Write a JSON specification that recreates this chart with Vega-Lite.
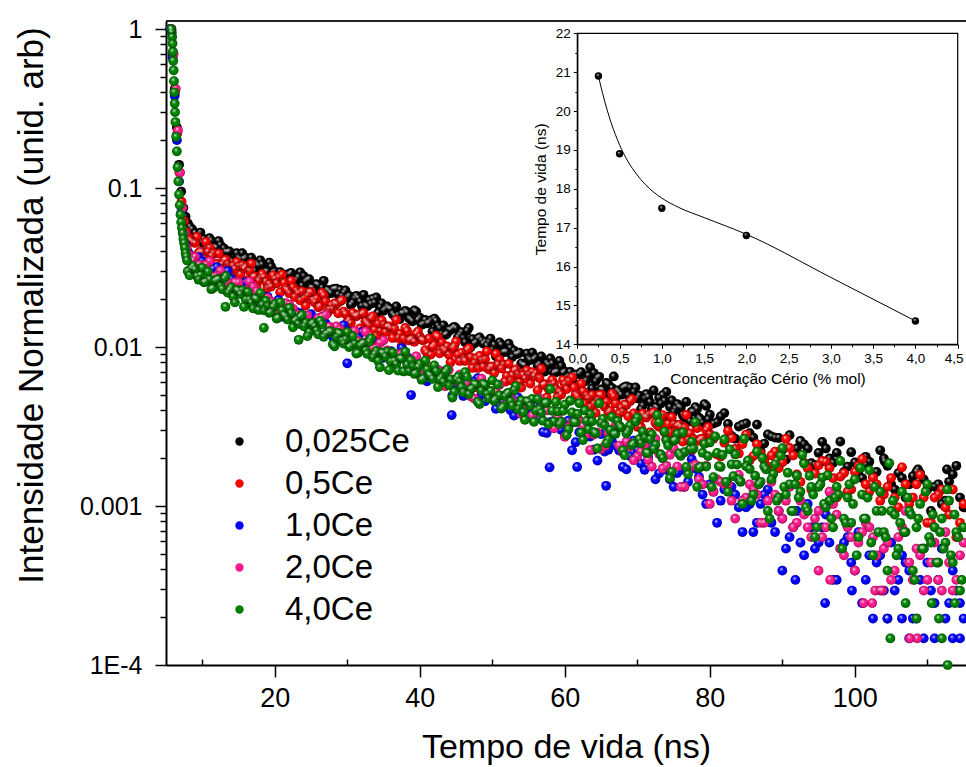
{
"$schema":"https://vega.github.io/schema/vega-lite/v6.json",
"width":800,"height":644,
"autosize":{"type":"none"},
"padding":{"left":166,"top":21,"right":0,"bottom":102},
"background":"white",
"config":{"view":{"stroke":null},"font":"Liberation Sans",
"axis":{"grid":false,"labelColor":"#000","titleColor":"#000","domainColor":"#000","tickColor":"#000","titleFontWeight":"normal","labelFont":"Liberation Sans","titleFont":"Liberation Sans","labelFlush":false,"labelOverlap":false}},
"datasets":{
"a":[{"t":5.6,"v":1.0},{"t":5.9,"v":0.7},{"t":6.2,"v":0.42},{"t":6.5,"v":0.24},{"t":6.8,"v":0.14},{"t":7.1,"v":0.095},{"t":7.4,"v":0.075},{"t":7.7,"v":0.066},{"t":8.0,"v":0.06},{"t":8.3,"v":0.057},{"t":8.6,"v":0.055},
{"t":9,"v":0.0522},{"t":10,"v":0.0455},{"t":11,"v":0.0484},{"t":12,"v":0.0422},{"t":13,"v":0.0417},{"t":14,"v":0.0349},{"t":15,"v":0.0365},{"t":16,"v":0.0365},{"t":17,"v":0.032},{"t":18,"v":0.0351},{"t":19,"v":0.0299},{"t":20,"v":0.0299},{"t":21,"v":0.0268},{"t":22,"v":0.0287},{"t":23,"v":0.0265},{"t":24,"v":0.0279},{"t":25,"v":0.0237},{"t":26,"v":0.0245},{"t":27,"v":0.0208},{"t":28,"v":0.023},{"t":29,"v":0.0229},{"t":30,"v":0.0205},{"t":31,"v":0.0202},{"t":32,"v":0.0181},{"t":33,"v":0.0197},{"t":34,"v":0.0205},{"t":35,"v":0.0169},{"t":36,"v":0.0173},{"t":37,"v":0.0159},{"t":38,"v":0.0169},{"t":39,"v":0.0145},{"t":40,"v":0.0153},{"t":41,"v":0.0141},{"t":42,"v":0.0151},{"t":43,"v":0.0121},{"t":44,"v":0.0129},{"t":45,"v":0.0131},{"t":46,"v":0.0114},{"t":47,"v":0.00995},{"t":48,"v":0.0113},{"t":49,"v":0.0108},{"t":50,"v":0.00962},{"t":51,"v":0.0107},{"t":52,"v":0.00933},{"t":53,"v":0.00948},{"t":54,"v":0.00789},{"t":55,"v":0.00847},{"t":56,"v":0.00861},{"t":57,"v":0.00746},{"t":58,"v":0.00847},{"t":59,"v":0.007},{"t":60,"v":0.00702},{"t":61,"v":0.00619},{"t":62,"v":0.00678},{"t":63,"v":0.00618},{"t":64,"v":0.00686},{"t":65,"v":0.00541},{"t":66,"v":0.00583},{"t":67,"v":0.00456},{"t":68,"v":0.0055},{"t":69,"v":0.00556},{"t":70,"v":0.00476},{"t":71,"v":0.00474},{"t":72,"v":0.00407},{"t":73,"v":0.00479},{"t":74,"v":0.00522},{"t":75,"v":0.00391},{"t":76,"v":0.00415},{"t":77,"v":0.00373},{"t":78,"v":0.00419},{"t":79,"v":0.00334},{"t":80,"v":0.00375},{"t":81,"v":0.00337},{"t":82,"v":0.00384},{"t":83,"v":0.00276},{"t":84,"v":0.00316},{"t":85,"v":0.00331},{"t":86,"v":0.00269},{"t":87,"v":0.00221},{"t":88,"v":0.00282},{"t":89,"v":0.00269},{"t":90,"v":0.00226},{"t":91,"v":0.00279},{"t":92,"v":0.0023},{"t":93,"v":0.00244},{"t":94,"v":0.00186},{"t":95,"v":0.00216},{"t":96,"v":0.0023},{"t":97,"v":0.00187},{"t":98,"v":0.00254},{"t":99,"v":0.00177},{"t":100,"v":0.00188},{"t":101,"v":0.0015},{"t":102,"v":0.0019},{"t":103,"v":0.00164},{"t":104,"v":0.00199},{"t":105,"v":0.00137},{"t":106,"v":0.00161},{"t":107,"v":0.00113},{"t":108,"v":0.00154},{"t":109,"v":0.00161},{"t":110,"v":0.00127},{"t":111,"v":0.00132},{"t":112,"v":0.00103},{"t":113,"v":0.00142},{"t":114,"v":0.00179},{"t":115,"v":0.00098},
{"t":92.5,"v":0.00254},{"t":101.5,"v":0.00204},{"t":104.1,"v":0.00191},{"t":108.7,"v":0.0017},{"t":112.7,"v":0.0017},
{"t":9.5,"v":0.0507},{"t":10.5,"v":0.0415},{"t":11.5,"v":0.0424},{"t":12.5,"v":0.0437},{"t":13.5,"v":0.0396},{"t":14.5,"v":0.0339},{"t":15.5,"v":0.0389},{"t":16.5,"v":0.0335},{"t":17.5,"v":0.0335},{"t":18.5,"v":0.0294},{"t":19.5,"v":0.032},{"t":20.5,"v":0.0282},{"t":21.5,"v":0.0285},{"t":22.5,"v":0.026},{"t":23.5,"v":0.0295},{"t":24.5,"v":0.0265},{"t":25.5,"v":0.0226},{"t":26.5,"v":0.0236},{"t":27.5,"v":0.0224},{"t":28.5,"v":0.0233},{"t":29.5,"v":0.0219},{"t":30.5,"v":0.0184},{"t":31.5,"v":0.0203},{"t":32.5,"v":0.0183},{"t":33.5,"v":0.0201},{"t":34.5,"v":0.0178},{"t":35.5,"v":0.018},{"t":36.5,"v":0.0157},{"t":37.5,"v":0.0163},{"t":38.5,"v":0.0152},{"t":39.5,"v":0.0167},{"t":40.5,"v":0.014},{"t":41.5,"v":0.0147},{"t":42.5,"v":0.0136},{"t":43.5,"v":0.0119},{"t":44.5,"v":0.0131},{"t":45.5,"v":0.0119},{"t":46.5,"v":0.0126},{"t":47.5,"v":0.0105},{"t":48.5,"v":0.011},{"t":49.5,"v":0.0107},{"t":50.5,"v":0.00874},{"t":51.5,"v":0.00926},{"t":52.5,"v":0.00987},{"t":53.5,"v":0.00905},{"t":54.5,"v":0.00768},{"t":55.5,"v":0.00921},{"t":56.5,"v":0.00783},{"t":57.5,"v":0.00795},{"t":58.5,"v":0.00685},{"t":59.5,"v":0.00761},{"t":60.5,"v":0.00657},{"t":61.5,"v":0.00671},{"t":62.5,"v":0.00605},{"t":63.5,"v":0.00744},{"t":64.5,"v":0.00637},{"t":65.5,"v":0.00508},{"t":66.5,"v":0.00553},{"t":67.5,"v":0.00519},{"t":68.5,"v":0.00566},{"t":69.5,"v":0.00522},{"t":70.5,"v":0.00405},{"t":71.5,"v":0.00484},{"t":72.5,"v":0.0042},{"t":73.5,"v":0.00498},{"t":74.5,"v":0.0042},{"t":75.5,"v":0.00438},{"t":76.5,"v":0.00359},{"t":77.5,"v":0.00392},{"t":78.5,"v":0.00359},{"t":79.5,"v":0.00426},{"t":80.5,"v":0.0033},{"t":81.5,"v":0.00366},{"t":82.5,"v":0.00328},{"t":83.5,"v":0.00265},{"t":84.5,"v":0.00325},{"t":85.5,"v":0.00287},{"t":86.5,"v":0.00325},{"t":87.5,"v":0.00247},{"t":88.5,"v":0.00274},{"t":89.5,"v":0.00268},{"t":90.5,"v":0.00196},{"t":91.5,"v":0.00223},{"t":92.5,"v":0.00257},{"t":93.5,"v":0.0023},{"t":94.5,"v":0.00181},{"t":95.5,"v":0.00253},{"t":96.5,"v":0.00199},{"t":97.5,"v":0.00216},{"t":98.5,"v":0.00164},{"t":99.5,"v":0.00218},{"t":100.5,"v":0.00166},{"t":101.5,"v":0.00182},{"t":102.5,"v":0.00152},{"t":103.5,"v":0.00224},{"t":104.5,"v":0.00179},{"t":105.5,"v":0.00127},{"t":106.5,"v":0.0015},{"t":107.5,"v":0.00137},{"t":108.5,"v":0.00164},{"t":109.5,"v":0.00147},{"t":110.5,"v":0.000931},{"t":111.5,"v":0.00137},{"t":112.5,"v":0.00108},{"t":113.5,"v":0.00158},{"t":114.5,"v":0.00113},
{"t":9.25,"v":0.049},{"t":9.75,"v":0.0525},{"t":10.25,"v":0.0477},{"t":10.75,"v":0.0428},{"t":11.25,"v":0.0467},{"t":11.75,"v":0.0425},{"t":12.25,"v":0.0464},{"t":12.75,"v":0.0388},{"t":13.25,"v":0.0397},{"t":13.75,"v":0.0399},{"t":14.25,"v":0.0341},{"t":14.75,"v":0.0389},{"t":15.25,"v":0.0357},{"t":15.75,"v":0.0359},{"t":16.25,"v":0.0329},{"t":16.75,"v":0.0365},{"t":17.25,"v":0.0302},{"t":17.75,"v":0.0325},{"t":18.25,"v":0.033},{"t":18.75,"v":0.0298},{"t":19.25,"v":0.034},{"t":19.75,"v":0.0294},{"t":20.25,"v":0.0276},{"t":20.75,"v":0.0296},{"t":21.25,"v":0.0284},{"t":21.75,"v":0.025},{"t":22.25,"v":0.0293},{"t":22.75,"v":0.0262},{"t":23.25,"v":0.0275},{"t":23.75,"v":0.0243},{"t":24.25,"v":0.0258},{"t":24.75,"v":0.0267},{"t":25.25,"v":0.0235},{"t":25.75,"v":0.0249},{"t":26.25,"v":0.0221},{"t":26.75,"v":0.0261},{"t":27.25,"v":0.0229},{"t":27.75,"v":0.0218},{"t":28.25,"v":0.0232},{"t":28.75,"v":0.0214},{"t":29.25,"v":0.0208},{"t":29.75,"v":0.0227},{"t":30.25,"v":0.021},{"t":30.75,"v":0.019},{"t":31.25,"v":0.021},{"t":31.75,"v":0.0193},{"t":32.25,"v":0.0213},{"t":32.75,"v":0.018},{"t":33.25,"v":0.0187},{"t":33.75,"v":0.019},{"t":34.25,"v":0.0164},{"t":34.75,"v":0.0188},{"t":35.25,"v":0.0173},{"t":35.75,"v":0.0175},{"t":36.25,"v":0.0162},{"t":36.75,"v":0.018},{"t":37.25,"v":0.015},{"t":37.75,"v":0.0163},{"t":38.25,"v":0.0165},{"t":38.75,"v":0.0149},{"t":39.25,"v":0.017},{"t":39.75,"v":0.0148},{"t":40.25,"v":0.0138},{"t":40.75,"v":0.0148},{"t":41.25,"v":0.0142},{"t":41.75,"v":0.0125},{"t":42.25,"v":0.0146},{"t":42.75,"v":0.0131},{"t":43.25,"v":0.0137},{"t":43.75,"v":0.0121},{"t":44.25,"v":0.0128},{"t":44.75,"v":0.0134},{"t":45.25,"v":0.0115},{"t":45.75,"v":0.0124},{"t":46.25,"v":0.0107},{"t":46.75,"v":0.0132},{"t":47.25,"v":0.0112},{"t":47.75,"v":0.0107},{"t":48.25,"v":0.0115},{"t":48.75,"v":0.0105},{"t":49.25,"v":0.0102},{"t":49.75,"v":0.0113},{"t":50.25,"v":0.0103},{"t":50.75,"v":0.00915},{"t":51.25,"v":0.0103},{"t":51.75,"v":0.00936},{"t":52.25,"v":0.0105},{"t":52.75,"v":0.00864},{"t":53.25,"v":0.00901},{"t":53.75,"v":0.00921},{"t":54.25,"v":0.0077},{"t":54.75,"v":0.0091},{"t":55.25,"v":0.00828},{"t":55.75,"v":0.0084},{"t":56.25,"v":0.00763},{"t":56.75,"v":0.00872},{"t":57.25,"v":0.007},{"t":57.75,"v":0.00771},{"t":58.25,"v":0.00788},{"t":58.75,"v":0.00697},{"t":59.25,"v":0.00818},{"t":59.75,"v":0.00689},{"t":60.25,"v":0.0064},{"t":60.75,"v":0.00697},{"t":61.25,"v":0.00667},{"t":61.75,"v":0.00575},{"t":62.25,"v":0.00695},{"t":62.75,"v":0.00606},{"t":63.25,"v":0.0066},{"t":63.75,"v":0.00549},{"t":64.25,"v":0.00609},{"t":64.75,"v":0.0065},{"t":65.25,"v":0.00536},{"t":65.75,"v":0.00594},{"t":66.25,"v":0.00495},{"t":66.75,"v":0.00653},{"t":67.25,"v":0.00534},{"t":67.75,"v":0.00501},{"t":68.25,"v":0.0056},{"t":68.75,"v":0.00497},{"t":69.25,"v":0.0048},{"t":69.75,"v":0.00557},{"t":70.25,"v":0.00495},{"t":70.75,"v":0.00428},{"t":71.25,"v":0.00506},{"t":71.75,"v":0.0045},{"t":72.25,"v":0.00533},{"t":72.75,"v":0.00413},{"t":73.25,"v":0.00441},{"t":73.75,"v":0.00459},{"t":74.25,"v":0.00365},{"t":74.75,"v":0.00461},{"t":75.25,"v":0.0041},{"t":75.75,"v":0.00422},{"t":76.25,"v":0.00375},{"t":76.75,"v":0.00452},{"t":77.25,"v":0.00341},{"t":77.75,"v":0.00392},{"t":78.25,"v":0.00408},{"t":78.75,"v":0.0035},{"t":79.25,"v":0.00437},{"t":79.75,"v":0.00351}],
"b":[{"t":5.65,"v":1.0},{"t":5.95,"v":0.68},{"t":6.25,"v":0.4},{"t":6.55,"v":0.22},{"t":6.85,"v":0.125},{"t":7.15,"v":0.082},{"t":7.45,"v":0.062},{"t":7.75,"v":0.053},{"t":8.05,"v":0.049},{"t":8.35,"v":0.047},{"t":8.65,"v":0.046},
{"t":9,"v":0.0451},{"t":10,"v":0.0395},{"t":11,"v":0.0421},{"t":12,"v":0.0333},{"t":13,"v":0.035},{"t":14,"v":0.0278},{"t":15,"v":0.0322},{"t":16,"v":0.032},{"t":17,"v":0.0277},{"t":18,"v":0.0272},{"t":19,"v":0.0236},{"t":20,"v":0.0268},{"t":21,"v":0.0285},{"t":22,"v":0.0218},{"t":23,"v":0.0226},{"t":24,"v":0.0203},{"t":25,"v":0.0221},{"t":26,"v":0.0178},{"t":27,"v":0.0194},{"t":28,"v":0.0174},{"t":29,"v":0.0193},{"t":30,"v":0.0143},{"t":31,"v":0.0158},{"t":32,"v":0.0161},{"t":33,"v":0.0137},{"t":34,"v":0.0118},{"t":35,"v":0.0138},{"t":36,"v":0.0131},{"t":37,"v":0.0114},{"t":38,"v":0.0132},{"t":39,"v":0.0112},{"t":40,"v":0.0116},{"t":41,"v":0.0092},{"t":42,"v":0.0103},{"t":43,"v":0.0107},{"t":44,"v":0.00895},{"t":45,"v":0.0108},{"t":46,"v":0.00847},{"t":47,"v":0.00863},{"t":48,"v":0.00738},{"t":49,"v":0.00839},{"t":50,"v":0.00752},{"t":51,"v":0.00834},{"t":52,"v":0.00658},{"t":53,"v":0.0071},{"t":54,"v":0.00555},{"t":55,"v":0.00668},{"t":56,"v":0.00684},{"t":57,"v":0.00577},{"t":58,"v":0.00575},{"t":59,"v":0.00486},{"t":60,"v":0.00583},{"t":61,"v":0.00644},{"t":62,"v":0.00464},{"t":63,"v":0.00496},{"t":64,"v":0.0044},{"t":65,"v":0.00501},{"t":66,"v":0.00388},{"t":67,"v":0.00442},{"t":68,"v":0.00392},{"t":69,"v":0.00455},{"t":70,"v":0.00315},{"t":71,"v":0.00366},{"t":72,"v":0.00381},{"t":73,"v":0.00315},{"t":74,"v":0.00263},{"t":75,"v":0.00329},{"t":76,"v":0.00314},{"t":77,"v":0.0026},{"t":78,"v":0.00328},{"t":79,"v":0.00265},{"t":80,"v":0.00284},{"t":81,"v":0.00211},{"t":82,"v":0.0025},{"t":83,"v":0.00268},{"t":84,"v":0.00214},{"t":85,"v":0.00281},{"t":86,"v":0.00206},{"t":87,"v":0.00215},{"t":88,"v":0.00177},{"t":89,"v":0.0022},{"t":90,"v":0.00188},{"t":91,"v":0.00232},{"t":92,"v":0.00158},{"t":93,"v":0.00187},{"t":94,"v":0.00127},{"t":95,"v":0.0018},{"t":96,"v":0.0019},{"t":97,"v":0.0015},{"t":98,"v":0.00153},{"t":99,"v":0.00123},{"t":100,"v":0.00164},{"t":101,"v":0.00197},{"t":102,"v":0.00123},{"t":103,"v":0.00137},{"t":104,"v":0.00118},{"t":105,"v":0.0015},{"t":106,"v":0.00098},{"t":107,"v":0.00137},{"t":108,"v":0.00113},{"t":109,"v":0.00157},{"t":110,"v":0.000784},{"t":111,"v":0.00113},{"t":112,"v":0.00127},{"t":113,"v":0.000882},{"t":114,"v":0.000637},{"t":115,"v":0.00103},
{"t":9.5,"v":0.039},{"t":10.5,"v":0.0458},{"t":11.5,"v":0.039},{"t":12.5,"v":0.0312},{"t":13.5,"v":0.0331},{"t":14.5,"v":0.0309},{"t":15.5,"v":0.0327},{"t":16.5,"v":0.0301},{"t":17.5,"v":0.0239},{"t":18.5,"v":0.0275},{"t":19.5,"v":0.024},{"t":20.5,"v":0.0275},{"t":21.5,"v":0.0233},{"t":22.5,"v":0.0238},{"t":23.5,"v":0.0197},{"t":24.5,"v":0.021},{"t":25.5,"v":0.0191},{"t":26.5,"v":0.0219},{"t":27.5,"v":0.0172},{"t":28.5,"v":0.0186},{"t":29.5,"v":0.0167},{"t":30.5,"v":0.0141},{"t":31.5,"v":0.016},{"t":32.5,"v":0.0145},{"t":33.5,"v":0.0156},{"t":34.5,"v":0.0126},{"t":35.5,"v":0.0134},{"t":36.5,"v":0.013},{"t":37.5,"v":0.0101},{"t":38.5,"v":0.011},{"t":39.5,"v":0.0121},{"t":40.5,"v":0.011},{"t":41.5,"v":0.00895},{"t":42.5,"v":0.0116},{"t":43.5,"v":0.00946},{"t":44.5,"v":0.00982},{"t":45.5,"v":0.00817},{"t":46.5,"v":0.00955},{"t":47.5,"v":0.00794},{"t":48.5,"v":0.00824},{"t":49.5,"v":0.00724},{"t":50.5,"v":0.00905},{"t":51.5,"v":0.00775},{"t":52.5,"v":0.00617},{"t":53.5,"v":0.00672},{"t":54.5,"v":0.00632},{"t":55.5,"v":0.00696},{"t":56.5,"v":0.00638},{"t":57.5,"v":0.00481},{"t":58.5,"v":0.00589},{"t":59.5,"v":0.00503},{"t":60.5,"v":0.0061},{"t":61.5,"v":0.00503},{"t":62.5,"v":0.00527},{"t":63.5,"v":0.00421},{"t":64.5,"v":0.00465},{"t":65.5,"v":0.00421},{"t":66.5,"v":0.00509},{"t":67.5,"v":0.00383},{"t":68.5,"v":0.00431},{"t":69.5,"v":0.00382},{"t":70.5,"v":0.00313},{"t":71.5,"v":0.00375},{"t":72.5,"v":0.00334},{"t":73.5,"v":0.00373},{"t":74.5,"v":0.0029},{"t":75.5,"v":0.00319},{"t":76.5,"v":0.00312},{"t":77.5,"v":0.00223},{"t":78.5,"v":0.00257},{"t":79.5,"v":0.003},{"t":80.5,"v":0.00265},{"t":81.5,"v":0.00205},{"t":82.5,"v":0.00297},{"t":83.5,"v":0.00229},{"t":84.5,"v":0.00245},{"t":85.5,"v":0.00194},{"t":86.5,"v":0.00245},{"t":87.5,"v":0.00194},{"t":88.5,"v":0.00208},{"t":89.5,"v":0.00173},{"t":90.5,"v":0.00264},{"t":91.5,"v":0.00208},{"t":92.5,"v":0.00142},{"t":93.5,"v":0.00173},{"t":94.5,"v":0.0016},{"t":95.5,"v":0.00192},{"t":96.5,"v":0.00173},{"t":97.5,"v":0.00113},{"t":98.5,"v":0.00161},{"t":99.5,"v":0.00127},{"t":100.5,"v":0.00179},{"t":101.5,"v":0.00137},{"t":102.5,"v":0.00151},{"t":103.5,"v":0.00108},{"t":104.5,"v":0.00132},{"t":105.5,"v":0.00113},{"t":106.5,"v":0.00175},{"t":107.5,"v":0.00103},{"t":108.5,"v":0.00137},{"t":109.5,"v":0.00113},{"t":110.5,"v":0.000784},{"t":111.5,"v":0.00118},{"t":112.5,"v":0.00098},{"t":113.5,"v":0.00127},{"t":114.5,"v":0.000784},
{"t":9.25,"v":0.0492},{"t":9.75,"v":0.0399},{"t":10.25,"v":0.0362},{"t":10.75,"v":0.0397},{"t":11.25,"v":0.0374},{"t":11.75,"v":0.0311},{"t":12.25,"v":0.0386},{"t":12.75,"v":0.0332},{"t":13.25,"v":0.0354},{"t":13.75,"v":0.03},{"t":14.25,"v":0.0325},{"t":14.75,"v":0.0342},{"t":15.25,"v":0.0286},{"t":15.75,"v":0.0311},{"t":16.25,"v":0.0263},{"t":16.75,"v":0.0334},{"t":17.25,"v":0.0278},{"t":17.75,"v":0.0262},{"t":18.25,"v":0.0287},{"t":18.75,"v":0.0258},{"t":19.25,"v":0.0249},{"t":19.75,"v":0.0282},{"t":20.25,"v":0.0252},{"t":20.75,"v":0.0221},{"t":21.25,"v":0.0254},{"t":21.75,"v":0.0227},{"t":22.25,"v":0.0261},{"t":22.75,"v":0.0207},{"t":23.25,"v":0.0218},{"t":23.75,"v":0.0224},{"t":24.25,"v":0.0182},{"t":24.75,"v":0.0221},{"t":25.25,"v":0.0198},{"t":25.75,"v":0.0202},{"t":26.25,"v":0.0181},{"t":26.75,"v":0.0211},{"t":27.25,"v":0.0163},{"t":27.75,"v":0.0183},{"t":28.25,"v":0.0188},{"t":28.75,"v":0.0163},{"t":29.25,"v":0.0197},{"t":29.75,"v":0.0161},{"t":30.25,"v":0.0148},{"t":30.75,"v":0.0164},{"t":31.25,"v":0.0156},{"t":31.75,"v":0.0131},{"t":32.25,"v":0.0164},{"t":32.75,"v":0.0141},{"t":33.25,"v":0.0151},{"t":33.75,"v":0.0128},{"t":34.25,"v":0.014},{"t":34.75,"v":0.0147},{"t":35.25,"v":0.0124},{"t":35.75,"v":0.0135},{"t":36.25,"v":0.0114},{"t":36.75,"v":0.0148},{"t":37.25,"v":0.0121},{"t":37.75,"v":0.0113},{"t":38.25,"v":0.0126},{"t":38.75,"v":0.0112},{"t":39.25,"v":0.0108},{"t":39.75,"v":0.0125},{"t":40.25,"v":0.0111},{"t":40.75,"v":0.00955},{"t":41.25,"v":0.0113},{"t":41.75,"v":0.01},{"t":42.25,"v":0.0118},{"t":42.75,"v":0.00912},{"t":43.25,"v":0.00973},{"t":43.75,"v":0.0101},{"t":44.25,"v":0.00802},{"t":44.75,"v":0.0101},{"t":45.25,"v":0.00895},{"t":45.75,"v":0.0092},{"t":46.25,"v":0.00817},{"t":46.75,"v":0.00982},{"t":47.25,"v":0.00738},{"t":47.75,"v":0.00847},{"t":48.25,"v":0.00879},{"t":48.75,"v":0.00752},{"t":49.25,"v":0.00938},{"t":49.75,"v":0.00752},{"t":50.25,"v":0.00686},{"t":50.75,"v":0.00774},{"t":51.25,"v":0.00733},{"t":51.75,"v":0.00605},{"t":52.25,"v":0.00784},{"t":52.75,"v":0.00665},{"t":53.25,"v":0.00723},{"t":53.75,"v":0.00602},{"t":54.25,"v":0.00667},{"t":54.75,"v":0.00712},{"t":55.25,"v":0.00588},{"t":55.75,"v":0.00655},{"t":56.25,"v":0.00534},{"t":56.75,"v":0.00731},{"t":57.25,"v":0.00584},{"t":57.75,"v":0.00545},{"t":58.25,"v":0.0062},{"t":58.75,"v":0.00544},{"t":59.25,"v":0.00523},{"t":59.75,"v":0.0062},{"t":60.25,"v":0.00543},{"t":60.75,"v":0.00461},{"t":61.25,"v":0.00557},{"t":61.75,"v":0.00488},{"t":62.25,"v":0.00589},{"t":62.75,"v":0.00442},{"t":63.25,"v":0.00476},{"t":63.75,"v":0.00498},{"t":64.25,"v":0.00385},{"t":64.75,"v":0.005},{"t":65.25,"v":0.00438},{"t":65.75,"v":0.00453},{"t":66.25,"v":0.00397},{"t":66.75,"v":0.00489},{"t":67.25,"v":0.00356},{"t":67.75,"v":0.00416},{"t":68.25,"v":0.00435},{"t":68.75,"v":0.00366},{"t":69.25,"v":0.0047},{"t":69.75,"v":0.00367},{"t":70.25,"v":0.00332},{"t":70.75,"v":0.00381},{"t":71.25,"v":0.0036},{"t":71.75,"v":0.0029},{"t":72.25,"v":0.00389},{"t":72.75,"v":0.00324},{"t":73.25,"v":0.00357},{"t":73.75,"v":0.00291},{"t":74.25,"v":0.00328},{"t":74.75,"v":0.00362},{"t":75.25,"v":0.0028},{"t":75.75,"v":0.00325},{"t":76.25,"v":0.00254},{"t":76.75,"v":0.00374},{"t":77.25,"v":0.00286},{"t":77.75,"v":0.00264},{"t":78.25,"v":0.00309},{"t":78.75,"v":0.00264},{"t":79.25,"v":0.00253},{"t":79.75,"v":0.00313}],
"c":[{"t":5.6,"v":1.0},{"t":5.9,"v":0.66},{"t":6.2,"v":0.38},{"t":6.5,"v":0.2},{"t":6.8,"v":0.11},{"t":7.1,"v":0.07},{"t":7.4,"v":0.052},{"t":7.7,"v":0.044},{"t":8.0,"v":0.04},{"t":8.3,"v":0.038},{"t":8.6,"v":0.036},
{"t":9,"v":0.0346},{"t":10,"v":0.0346},{"t":11,"v":0.0305},{"t":12,"v":0.0318},{"t":13,"v":0.0257},{"t":14,"v":0.0268},{"t":15,"v":0.0239},{"t":16,"v":0.0256},{"t":17,"v":0.0194},{"t":18,"v":0.0207},{"t":19,"v":0.0207},{"t":20,"v":0.0179},{"t":21,"v":0.0155},{"t":22,"v":0.0175},{"t":23,"v":0.0166},{"t":24,"v":0.0146},{"t":25,"v":0.0161},{"t":26,"v":0.0139},{"t":27,"v":0.0141},{"t":28,"v":0.0116},{"t":29,"v":0.0124},{"t":30,"v":0.0126},{"t":31,"v":0.0107},{"t":32,"v":0.0124},{"t":33,"v":0.00991},{"t":34,"v":0.00993},{"t":35,"v":0.00854},{"t":36,"v":0.00943},{"t":37,"v":0.00844},{"t":38,"v":0.0091},{"t":39,"v":0.00728},{"t":40,"v":0.00766},{"t":41,"v":0.00608},{"t":42,"v":0.00704},{"t":43,"v":0.007},{"t":44,"v":0.00598},{"t":45,"v":0.00589},{"t":46,"v":0.00492},{"t":47,"v":0.00583},{"t":48,"v":0.00637},{"t":49,"v":0.00456},{"t":50,"v":0.00483},{"t":51,"v":0.00425},{"t":52,"v":0.0048},{"t":53,"v":0.0037},{"t":54,"v":0.00418},{"t":55,"v":0.00368},{"t":56,"v":0.00425},{"t":57,"v":0.00292},{"t":58,"v":0.00337},{"t":59,"v":0.00354},{"t":60,"v":0.0028},{"t":61,"v":0.00224},{"t":62,"v":0.00291},{"t":63,"v":0.00275},{"t":64,"v":0.00226},{"t":65,"v":0.00283},{"t":66,"v":0.00226},{"t":67,"v":0.0024},{"t":68,"v":0.00176},{"t":69,"v":0.00206},{"t":70,"v":0.00225},{"t":71,"v":0.00169},{"t":72,"v":0.00239},{"t":73,"v":0.0016},{"t":74,"v":0.00169},{"t":75,"v":0.00132},{"t":76,"v":0.00168},{"t":77,"v":0.00142},{"t":78,"v":0.00172},{"t":79,"v":0.00118},{"t":80,"v":0.00137},{"t":81,"v":0.000784},{"t":82,"v":0.00127},{"t":83,"v":0.00132},{"t":84,"v":0.00098},{"t":85,"v":0.00098},{"t":86,"v":0.000686},{"t":87,"v":0.00103},{"t":88,"v":0.00127},{"t":89,"v":0.000686},{"t":90,"v":0.000833},{"t":91,"v":0.000637},{"t":92,"v":0.000931},{"t":93,"v":0.00049},{"t":94,"v":0.000735},{"t":95,"v":0.000588},{"t":96,"v":0.000882},{"t":97,"v":0.000343},{"t":98,"v":0.000539},{"t":99,"v":0.000637},{"t":100,"v":0.000392},{"t":101,"v":0.000245},{"t":102,"v":0.00049},{"t":103,"v":0.000441},{"t":104,"v":0.000294},{"t":105,"v":0.000588},{"t":106,"v":0.000343},{"t":107,"v":0.000441},{"t":108,"v":0.000196},{"t":109,"v":0.000343},{"t":110,"v":0.000441},{"t":111,"v":0.000245},{"t":112,"v":0.000539},{"t":113,"v":0.000245},{"t":114,"v":0.000294},{"t":115,"v":0.000196},
{"t":30,"v":0.0079},{"t":38.8,"v":0.00499},{"t":44.4,"v":0.00373},{"t":57.9,"v":0.00175},{"t":61.7,"v":0.00176},{"t":65.7,"v":0.00134},{"t":90,"v":0.000392},{"t":91.8,"v":0.000343},{"t":95.9,"v":0.000245},{"t":99.6,"v":0.000294},{"t":102.5,"v":0.000196},{"t":104.5,"v":0.000196},{"t":106.5,"v":0.000196},{"t":107.5,"v":0.000147},{"t":109.5,"v":0.000147},{"t":111,"v":0.000147},{"t":113.5,"v":0.000147},{"t":114.5,"v":0.000147},
{"t":9.5,"v":0.0368},{"t":10.5,"v":0.0303},{"t":11.5,"v":0.031},{"t":12.5,"v":0.0277},{"t":13.5,"v":0.0301},{"t":14.5,"v":0.024},{"t":15.5,"v":0.0251},{"t":16.5,"v":0.0224},{"t":17.5,"v":0.0189},{"t":18.5,"v":0.0208},{"t":19.5,"v":0.0188},{"t":20.5,"v":0.0198},{"t":21.5,"v":0.0163},{"t":22.5,"v":0.0169},{"t":23.5,"v":0.0163},{"t":24.5,"v":0.0132},{"t":25.5,"v":0.0139},{"t":26.5,"v":0.0147},{"t":27.5,"v":0.0134},{"t":28.5,"v":0.0111},{"t":29.5,"v":0.0137},{"t":30.5,"v":0.0113},{"t":31.5,"v":0.0115},{"t":32.5,"v":0.00966},{"t":33.5,"v":0.0109},{"t":34.5,"v":0.00917},{"t":35.5,"v":0.00934},{"t":36.5,"v":0.00823},{"t":37.5,"v":0.00985},{"t":38.5,"v":0.00847},{"t":39.5,"v":0.00683},{"t":40.5,"v":0.00724},{"t":41.5,"v":0.00675},{"t":42.5,"v":0.00716},{"t":43.5,"v":0.00645},{"t":44.5,"v":0.00495},{"t":45.5,"v":0.006},{"t":46.5,"v":0.00506},{"t":47.5,"v":0.00607},{"t":48.5,"v":0.00496},{"t":49.5,"v":0.00515},{"t":50.5,"v":0.00408},{"t":51.5,"v":0.00447},{"t":52.5,"v":0.00402},{"t":53.5,"v":0.00484},{"t":54.5,"v":0.00361},{"t":55.5,"v":0.00404},{"t":56.5,"v":0.00356},{"t":57.5,"v":0.00288},{"t":58.5,"v":0.00343},{"t":59.5,"v":0.00301},{"t":60.5,"v":0.00344},{"t":61.5,"v":0.00252},{"t":62.5,"v":0.00281},{"t":63.5,"v":0.00273},{"t":64.5,"v":0.00193},{"t":65.5,"v":0.0022},{"t":66.5,"v":0.00255},{"t":67.5,"v":0.00223},{"t":68.5,"v":0.0017},{"t":69.5,"v":0.00258},{"t":70.5,"v":0.00185},{"t":71.5,"v":0.00201},{"t":72.5,"v":0.00147},{"t":73.5,"v":0.002},{"t":74.5,"v":0.00147},{"t":75.5,"v":0.00161},{"t":76.5,"v":0.00132},{"t":77.5,"v":0.00197},{"t":78.5,"v":0.00153},{"t":79.5,"v":0.00103},{"t":80.5,"v":0.00123},{"t":81.5,"v":0.00108},{"t":82.5,"v":0.00137},{"t":83.5,"v":0.00118},{"t":84.5,"v":0.000686},{"t":85.5,"v":0.00103},{"t":86.5,"v":0.000784},{"t":87.5,"v":0.00118},{"t":88.5,"v":0.000784},{"t":89.5,"v":0.000931},{"t":90.5,"v":0.000539},{"t":91.5,"v":0.000735},{"t":92.5,"v":0.000588},{"t":93.5,"v":0.00103},{"t":94.5,"v":0.000539},{"t":95.5,"v":0.000735},{"t":96.5,"v":0.000588},{"t":97.5,"v":0.000343},{"t":98.5,"v":0.000588},{"t":99.5,"v":0.000441},{"t":100.5,"v":0.000686},{"t":101.5,"v":0.000343},{"t":102.5,"v":0.00049},{"t":103.5,"v":0.00049},{"t":104.5,"v":0.000196},{"t":105.5,"v":0.000294},{"t":106.5,"v":0.00049},{"t":107.5,"v":0.000392},{"t":108.5,"v":0.000196},{"t":109.5,"v":0.000539},{"t":110.5,"v":0.000294},{"t":111.5,"v":0.000343},{"t":112.5,"v":0.000196},{"t":113.5,"v":0.000392},{"t":114.5,"v":0.000245}],
"d":[{"t":5.75,"v":1.0},{"t":6.05,"v":0.7},{"t":6.35,"v":0.42},{"t":6.65,"v":0.23},{"t":6.95,"v":0.125},{"t":7.25,"v":0.075},{"t":7.55,"v":0.052},{"t":7.85,"v":0.042},{"t":8.15,"v":0.038},{"t":8.45,"v":0.036},{"t":8.75,"v":0.035},
{"t":9,"v":0.0369},{"t":10,"v":0.031},{"t":11,"v":0.0346},{"t":12,"v":0.0281},{"t":13,"v":0.0276},{"t":14,"v":0.0238},{"t":15,"v":0.0255},{"t":16,"v":0.0228},{"t":17,"v":0.024},{"t":18,"v":0.0195},{"t":19,"v":0.0203},{"t":20,"v":0.0165},{"t":21,"v":0.0186},{"t":22,"v":0.0185},{"t":23,"v":0.0161},{"t":24,"v":0.0157},{"t":25,"v":0.0138},{"t":26,"v":0.0152},{"t":27,"v":0.0159},{"t":28,"v":0.0125},{"t":29,"v":0.0129},{"t":30,"v":0.0115},{"t":31,"v":0.0126},{"t":32,"v":0.0102},{"t":33,"v":0.0111},{"t":34,"v":0.00993},{"t":35,"v":0.011},{"t":36,"v":0.00813},{"t":37,"v":0.009},{"t":38,"v":0.00911},{"t":39,"v":0.00773},{"t":40,"v":0.00661},{"t":41,"v":0.00767},{"t":42,"v":0.00729},{"t":43,"v":0.00633},{"t":44,"v":0.00718},{"t":45,"v":0.00611},{"t":46,"v":0.00635},{"t":47,"v":0.00489},{"t":48,"v":0.00553},{"t":49,"v":0.00575},{"t":50,"v":0.00471},{"t":51,"v":0.00579},{"t":52,"v":0.00443},{"t":53,"v":0.00452},{"t":54,"v":0.00379},{"t":55,"v":0.00438},{"t":56,"v":0.00387},{"t":57,"v":0.00434},{"t":58,"v":0.00331},{"t":59,"v":0.0036},{"t":60,"v":0.00272},{"t":61,"v":0.00335},{"t":62,"v":0.00346},{"t":63,"v":0.00282},{"t":64,"v":0.00281},{"t":65,"v":0.00228},{"t":66,"v":0.00286},{"t":67,"v":0.00323},{"t":68,"v":0.00218},{"t":69,"v":0.00237},{"t":70,"v":0.00205},{"t":71,"v":0.00241},{"t":72,"v":0.00177},{"t":73,"v":0.00213},{"t":74,"v":0.00179},{"t":75,"v":0.0023},{"t":76,"v":0.00132},{"t":77,"v":0.00169},{"t":78,"v":0.00182},{"t":79,"v":0.00137},{"t":80,"v":0.00103},{"t":81,"v":0.00147},{"t":82,"v":0.00137},{"t":83,"v":0.00108},{"t":84,"v":0.00157},{"t":85,"v":0.00113},{"t":86,"v":0.00127},{"t":87,"v":0.000784},{"t":88,"v":0.00108},{"t":89,"v":0.00118},{"t":90,"v":0.000833},{"t":91,"v":0.00132},{"t":92,"v":0.000784},{"t":93,"v":0.000882},{"t":94,"v":0.000637},{"t":95,"v":0.000931},{"t":96,"v":0.000735},{"t":97,"v":0.00103},{"t":98,"v":0.000539},{"t":99,"v":0.000735},{"t":100,"v":0.000392},{"t":101,"v":0.000686},{"t":102,"v":0.000735},{"t":103,"v":0.00049},{"t":104,"v":0.000539},{"t":105,"v":0.000343},{"t":106,"v":0.000637},{"t":107,"v":0.000931},{"t":108,"v":0.000343},{"t":109,"v":0.00049},{"t":110,"v":0.000343},{"t":111,"v":0.000588},{"t":112,"v":0.000294},{"t":113,"v":0.000441},{"t":114,"v":0.000343},{"t":115,"v":0.000588},
{"t":95,"v":0.000392},{"t":96.6,"v":0.000343},{"t":101.2,"v":0.000245},{"t":102.4,"v":0.000245},{"t":102.8,"v":0.000294},{"t":103.8,"v":0.000294},{"t":107.6,"v":0.000147},{"t":108.6,"v":0.000147},
{"t":9.5,"v":0.033},{"t":10.5,"v":0.0328},{"t":11.5,"v":0.0277},{"t":12.5,"v":0.0302},{"t":13.5,"v":0.0256},{"t":14.5,"v":0.0255},{"t":15.5,"v":0.0225},{"t":16.5,"v":0.0258},{"t":17.5,"v":0.0224},{"t":18.5,"v":0.0185},{"t":19.5,"v":0.0193},{"t":20.5,"v":0.018},{"t":21.5,"v":0.0189},{"t":22.5,"v":0.0174},{"t":23.5,"v":0.0141},{"t":24.5,"v":0.0158},{"t":25.5,"v":0.0139},{"t":26.5,"v":0.0155},{"t":27.5,"v":0.0134},{"t":28.5,"v":0.0135},{"t":29.5,"v":0.0113},{"t":30.5,"v":0.012},{"t":31.5,"v":0.0109},{"t":32.5,"v":0.0125},{"t":33.5,"v":0.00983},{"t":34.5,"v":0.0106},{"t":35.5,"v":0.00953},{"t":36.5,"v":0.00802},{"t":37.5,"v":0.00909},{"t":38.5,"v":0.00816},{"t":39.5,"v":0.00874},{"t":40.5,"v":0.00706},{"t":41.5,"v":0.00745},{"t":42.5,"v":0.00719},{"t":43.5,"v":0.00567},{"t":44.5,"v":0.00608},{"t":45.5,"v":0.0067},{"t":46.5,"v":0.00596},{"t":47.5,"v":0.00474},{"t":48.5,"v":0.00632},{"t":49.5,"v":0.00502},{"t":50.5,"v":0.00522},{"t":51.5,"v":0.00425},{"t":52.5,"v":0.00506},{"t":53.5,"v":0.00412},{"t":54.5,"v":0.00429},{"t":55.5,"v":0.00371},{"t":56.5,"v":0.00476},{"t":57.5,"v":0.00399},{"t":58.5,"v":0.00308},{"t":59.5,"v":0.00338},{"t":60.5,"v":0.00314},{"t":61.5,"v":0.00353},{"t":62.5,"v":0.00318},{"t":63.5,"v":0.00225},{"t":64.5,"v":0.00289},{"t":65.5,"v":0.00238},{"t":66.5,"v":0.00302},{"t":67.5,"v":0.0024},{"t":68.5,"v":0.00254},{"t":69.5,"v":0.00194},{"t":70.5,"v":0.0022},{"t":71.5,"v":0.00195},{"t":72.5,"v":0.00264},{"t":73.5,"v":0.00172},{"t":74.5,"v":0.0021},{"t":75.5,"v":0.00177},{"t":76.5,"v":0.00132},{"t":77.5,"v":0.00177},{"t":78.5,"v":0.00147},{"t":79.5,"v":0.00179},{"t":80.5,"v":0.00123},{"t":81.5,"v":0.00142},{"t":82.5,"v":0.00137},{"t":83.5,"v":0.000833},{"t":84.5,"v":0.00108},{"t":85.5,"v":0.00137},{"t":86.5,"v":0.00118},{"t":87.5,"v":0.000784},{"t":88.5,"v":0.00142},{"t":89.5,"v":0.000931},{"t":90.5,"v":0.00108},{"t":91.5,"v":0.000735},{"t":92.5,"v":0.00108},{"t":93.5,"v":0.000735},{"t":94.5,"v":0.000833},{"t":95.5,"v":0.000637},{"t":96.5,"v":0.00123},{"t":97.5,"v":0.000882},{"t":98.5,"v":0.00049},{"t":99.5,"v":0.000637},{"t":100.5,"v":0.000588},{"t":101.5,"v":0.000784},{"t":102.5,"v":0.000637},{"t":103.5,"v":0.000294},{"t":104.5,"v":0.000588},{"t":105.5,"v":0.000392},{"t":106.5,"v":0.000735},{"t":107.5,"v":0.000441},{"t":108.5,"v":0.000539},{"t":109.5,"v":0.000294},{"t":110.5,"v":0.000441},{"t":111.5,"v":0.000343},{"t":112.5,"v":0.000686},{"t":113.5,"v":0.000294},{"t":114.5,"v":0.00049}],
"e":[{"t":5.7,"v":1.0},{"t":5.75,"v":0.99},{"t":5.8,"v":0.95},{"t":5.85,"v":0.89},{"t":5.9,"v":0.81},{"t":5.95,"v":0.72},{"t":6.0,"v":0.63},{"t":6.05,"v":0.55},{"t":6.1,"v":0.47},{"t":6.15,"v":0.4},{"t":6.2,"v":0.34},{"t":6.25,"v":0.3},{"t":6.3,"v":0.26},{"t":6.4,"v":0.21},{"t":6.5,"v":0.17},{"t":6.6,"v":0.135},{"t":6.7,"v":0.11},{"t":6.8,"v":0.091},{"t":6.9,"v":0.078},{"t":7.0,"v":0.068},{"t":7.1,"v":0.061},{"t":7.2,"v":0.056},{"t":7.3,"v":0.052},{"t":7.4,"v":0.048},{"t":7.5,"v":0.045},{"t":7.6,"v":0.042},{"t":7.7,"v":0.039},{"t":7.8,"v":0.037},{"t":7.9,"v":0.035},
{"t":8,"v":0.03},{"t":8.5,"v":0.0312},{"t":9,"v":0.0307},{"t":9.5,"v":0.0265},{"t":10,"v":0.0315},{"t":10.5,"v":0.0258},{"t":11,"v":0.0266},{"t":11.5,"v":0.0235},{"t":12,"v":0.0266},{"t":12.5,"v":0.0244},{"t":13,"v":0.0269},{"t":13.5,"v":0.022},{"t":14,"v":0.0237},{"t":14.5,"v":0.0191},{"t":15,"v":0.0225},{"t":15.5,"v":0.0228},{"t":16,"v":0.0199},{"t":16.5,"v":0.0199},{"t":17,"v":0.0175},{"t":17.5,"v":0.0201},{"t":18,"v":0.0218},{"t":18.5,"v":0.017},{"t":19,"v":0.0181},{"t":19.5,"v":0.0167},{"t":20,"v":0.0186},{"t":20.5,"v":0.0153},{"t":21,"v":0.017},{"t":21.5,"v":0.0156},{"t":22,"v":0.0176},{"t":22.5,"v":0.0133},{"t":23,"v":0.015},{"t":23.5,"v":0.0155},{"t":24,"v":0.0135},{"t":24.5,"v":0.0117},{"t":25,"v":0.0139},{"t":25.5,"v":0.0135},{"t":26,"v":0.012},{"t":26.5,"v":0.0139},{"t":27,"v":0.0121},{"t":27.5,"v":0.0126},{"t":28,"v":0.0104},{"t":28.5,"v":0.0116},{"t":29,"v":0.0121},{"t":29.5,"v":0.0105},{"t":30,"v":0.0124},{"t":30.5,"v":0.0102},{"t":31,"v":0.0105},{"t":31.5,"v":0.00921},{"t":32,"v":0.0105},{"t":32.5,"v":0.00957},{"t":33,"v":0.0108},{"t":33.5,"v":0.00861},{"t":34,"v":0.00942},{"t":34.5,"v":0.00746},{"t":35,"v":0.00912},{"t":35.5,"v":0.00935},{"t":36,"v":0.00813},{"t":36.5,"v":0.00818},{"t":37,"v":0.00711},{"t":37.5,"v":0.00845},{"t":38,"v":0.00933},{"t":38.5,"v":0.00706},{"t":39,"v":0.00759},{"t":39.5,"v":0.0069},{"t":40,"v":0.00783},{"t":40.5,"v":0.00635},{"t":41,"v":0.00723},{"t":41.5,"v":0.0066},{"t":42,"v":0.00766},{"t":42.5,"v":0.0056},{"t":43,"v":0.0065},{"t":43.5,"v":0.00696},{"t":44,"v":0.00575},{"t":44.5,"v":0.00481},{"t":45,"v":0.00624},{"t":45.5,"v":0.00606},{"t":46,"v":0.00519},{"t":46.5,"v":0.00649},{"t":47,"v":0.00543},{"t":47.5,"v":0.00585},{"t":48,"v":0.00452},{"t":48.5,"v":0.00534},{"t":49,"v":0.00575},{"t":49.5,"v":0.00476},{"t":50,"v":0.00617},{"t":50.5,"v":0.00471},{"t":51,"v":0.00497},{"t":51.5,"v":0.00421},{"t":52,"v":0.00509},{"t":52.5,"v":0.00457},{"t":53,"v":0.00535},{"t":53.5,"v":0.00408},{"t":54,"v":0.00461},{"t":54.5,"v":0.00348},{"t":55,"v":0.00452},{"t":55.5,"v":0.00471},{"t":56,"v":0.00399},{"t":56.5,"v":0.00406},{"t":57,"v":0.00344},{"t":57.5,"v":0.00448},{"t":58,"v":0.00543},{"t":58.5,"v":0.0034},{"t":59,"v":0.00394},{"t":59.5,"v":0.0034},{"t":60,"v":0.00434},{"t":60.5,"v":0.00304},{"t":61,"v":0.00388},{"t":61.5,"v":0.00336},{"t":62,"v":0.00443},{"t":62.5,"v":0.0026},{"t":63,"v":0.00343},{"t":63.5,"v":0.00378},{"t":64,"v":0.00292},{"t":64.5,"v":0.0023},{"t":65,"v":0.00333},{"t":65.5,"v":0.00323},{"t":66,"v":0.00262},{"t":66.5,"v":0.00363},{"t":67,"v":0.00285},{"t":67.5,"v":0.0032},{"t":68,"v":0.00224},{"t":68.5,"v":0.00286},{"t":69,"v":0.00321},{"t":69.5,"v":0.00248},{"t":70,"v":0.0036},{"t":70.5,"v":0.00248},{"t":71,"v":0.00269},{"t":71.5,"v":0.00215},{"t":72,"v":0.00282},{"t":72.5,"v":0.00243},{"t":73,"v":0.00337},{"t":73.5,"v":0.002},{"t":74,"v":0.00259},{"t":74.5,"v":0.0015},{"t":75,"v":0.00257},{"t":75.5,"v":0.00284},{"t":76,"v":0.00207},{"t":76.5,"v":0.00218},{"t":77,"v":0.00159},{"t":77.5,"v":0.00254},{"t":78,"v":0.00337},{"t":78.5,"v":0.00174},{"t":79,"v":0.00216},{"t":79.5,"v":0.00177},{"t":80,"v":0.00251},{"t":80.5,"v":0.00152},{"t":81,"v":0.00216},{"t":81.5,"v":0.00176},{"t":82,"v":0.00262},{"t":82.5,"v":0.00123},{"t":83,"v":0.00183},{"t":83.5,"v":0.00211},{"t":84,"v":0.00147},{"t":84.5,"v":0.00103},{"t":85,"v":0.00178},{"t":85.5,"v":0.00171},{"t":86,"v":0.00118},{"t":86.5,"v":0.0022},{"t":87,"v":0.00142},{"t":87.5,"v":0.00177},{"t":88,"v":0.000931},{"t":88.5,"v":0.00147},{"t":89,"v":0.00183},{"t":89.5,"v":0.00113},{"t":90,"v":0.00231},{"t":90.5,"v":0.00118},{"t":91,"v":0.00137},{"t":91.5,"v":0.000931},{"t":92,"v":0.00155},{"t":92.5,"v":0.00123},{"t":93,"v":0.00185},{"t":93.5,"v":0.000931},{"t":94,"v":0.00132},{"t":94.5,"v":0.000637},{"t":95,"v":0.00132},{"t":95.5,"v":0.00151},{"t":96,"v":0.00098},{"t":96.5,"v":0.00108},{"t":97,"v":0.000735},{"t":97.5,"v":0.00132},{"t":98,"v":0.00192},{"t":98.5,"v":0.000833},{"t":99,"v":0.00113},{"t":99.5,"v":0.000784},{"t":100,"v":0.00147},{"t":100.5,"v":0.000637},{"t":101,"v":0.00118},{"t":101.5,"v":0.000833},{"t":102,"v":0.00168},{"t":102.5,"v":0.00049},{"t":103,"v":0.000931},{"t":103.5,"v":0.00123},{"t":104,"v":0.000686},{"t":104.5,"v":0.000392},{"t":105,"v":0.000931},{"t":105.5,"v":0.000882},{"t":106,"v":0.000539},{"t":106.5,"v":0.00123},{"t":107,"v":0.000686},{"t":107.5,"v":0.000931},{"t":108,"v":0.000392},{"t":108.5,"v":0.000735},{"t":109,"v":0.00103},{"t":109.5,"v":0.000539},{"t":110,"v":0.00137},{"t":110.5,"v":0.000588},{"t":111,"v":0.000735},{"t":111.5,"v":0.000441},{"t":112,"v":0.000833},{"t":112.5,"v":0.000588},{"t":113,"v":0.00108},{"t":113.5,"v":0.000441},{"t":114,"v":0.000686},{"t":114.5,"v":0.000294},{"t":115,"v":0.000735},
{"t":13.2,"v":0.0179},{"t":18.5,"v":0.0132},{"t":23.3,"v":0.0111},{"t":104.9,"v":0.000147},{"t":112,"v":0.000147},{"t":108.5,"v":0.000196},{"t":111.6,"v":0.000196},{"t":107,"v":0.000245},{"t":110.6,"v":0.000245},{"t":113.8,"v":0.000245},{"t":112.8,"v":0.0001},
{"t":60.25,"v":0.00279},{"t":60.75,"v":0.00459},{"t":61.25,"v":0.00339},{"t":61.75,"v":0.0038},{"t":62.25,"v":0.00289},{"t":62.75,"v":0.00399},{"t":63.25,"v":0.00304},{"t":63.75,"v":0.00341},{"t":64.25,"v":0.00286},{"t":64.75,"v":0.00442},{"t":65.25,"v":0.00353},{"t":65.75,"v":0.00248},{"t":66.25,"v":0.00301},{"t":66.75,"v":0.00283},{"t":67.25,"v":0.00343},{"t":67.75,"v":0.00312},{"t":68.25,"v":0.00209},{"t":68.75,"v":0.00298},{"t":69.25,"v":0.00242},{"t":69.75,"v":0.0034},{"t":70.25,"v":0.00263},{"t":70.75,"v":0.00294},{"t":71.25,"v":0.00217},{"t":71.75,"v":0.00263},{"t":72.25,"v":0.00228},{"t":72.75,"v":0.00373},{"t":73.25,"v":0.00211},{"t":73.75,"v":0.00294},{"t":74.25,"v":0.0024},{"t":74.75,"v":0.00164},{"t":75.25,"v":0.00261},{"t":75.75,"v":0.00214},{"t":76.25,"v":0.0029},{"t":76.75,"v":0.00176},{"t":77.25,"v":0.00228},{"t":77.75,"v":0.0023},{"t":78.25,"v":0.00132},{"t":78.75,"v":0.00177},{"t":79.25,"v":0.00246},{"t":79.75,"v":0.00206},{"t":80.25,"v":0.00132},{"t":80.75,"v":0.00274},{"t":81.25,"v":0.00178},{"t":81.75,"v":0.0021},{"t":82.25,"v":0.00142},{"t":82.75,"v":0.00227},{"t":83.25,"v":0.00154},{"t":83.75,"v":0.00182},{"t":84.25,"v":0.00142},{"t":84.75,"v":0.00265},{"t":85.25,"v":0.00193},{"t":85.75,"v":0.00108},{"t":86.25,"v":0.00155},{"t":86.75,"v":0.00137},{"t":87.25,"v":0.00201},{"t":87.75,"v":0.0017},{"t":88.25,"v":0.000833},{"t":88.75,"v":0.00159},{"t":89.25,"v":0.00108},{"t":89.75,"v":0.00207},{"t":90.25,"v":0.00132},{"t":90.75,"v":0.00162},{"t":91.25,"v":0.000931},{"t":91.75,"v":0.00137},{"t":92.25,"v":0.00113},{"t":92.75,"v":0.0021},{"t":93.25,"v":0.00098},{"t":93.75,"v":0.00155},{"t":94.25,"v":0.00118},{"t":94.75,"v":0.000735},{"t":95.25,"v":0.00137},{"t":95.75,"v":0.00103},{"t":96.25,"v":0.00156},{"t":96.75,"v":0.000833},{"t":97.25,"v":0.00113},{"t":97.75,"v":0.00118},{"t":98.25,"v":0.000539},{"t":98.75,"v":0.000784},{"t":99.25,"v":0.00137},{"t":99.75,"v":0.00103},{"t":100.25,"v":0.00049},{"t":100.75,"v":0.00174},{"t":101.25,"v":0.000833},{"t":101.75,"v":0.00113},{"t":102.25,"v":0.000588},{"t":102.75,"v":0.00132},{"t":103.25,"v":0.000686},{"t":103.75,"v":0.000931},{"t":104.25,"v":0.000637},{"t":104.75,"v":0.00186},{"t":105.25,"v":0.00108},{"t":105.75,"v":0.00049},{"t":106.25,"v":0.000784},{"t":106.75,"v":0.000686},{"t":107.25,"v":0.00113},{"t":107.75,"v":0.000882},{"t":108.25,"v":0.000343},{"t":108.75,"v":0.000833},{"t":109.25,"v":0.000539},{"t":109.75,"v":0.00123},{"t":110.25,"v":0.000637},{"t":110.75,"v":0.000882},{"t":111.25,"v":0.000441},{"t":111.75,"v":0.000686},{"t":112.25,"v":0.000539},{"t":112.75,"v":0.00127},{"t":113.25,"v":0.00049},{"t":113.75,"v":0.000882},{"t":114.25,"v":0.000637},{"t":114.75,"v":0.000343},
{"t":8.25,"v":0.0282},{"t":8.75,"v":0.0322},{"t":9.25,"v":0.028},{"t":9.75,"v":0.0284},{"t":10.25,"v":0.0255},{"t":10.75,"v":0.0298},{"t":11.25,"v":0.0231},{"t":11.75,"v":0.026},{"t":12.25,"v":0.0267},{"t":12.75,"v":0.0231},{"t":13.25,"v":0.0279},{"t":13.75,"v":0.0228},{"t":14.25,"v":0.0208},{"t":14.75,"v":0.0229},{"t":15.25,"v":0.0215},{"t":15.75,"v":0.0179},{"t":16.25,"v":0.0222},{"t":16.75,"v":0.019},{"t":17.25,"v":0.0202},{"t":17.75,"v":0.0171},{"t":18.25,"v":0.0185},{"t":18.75,"v":0.0195},{"t":19.25,"v":0.0164},{"t":19.75,"v":0.0179},{"t":20.25,"v":0.0151},{"t":20.75,"v":0.0191},{"t":21.25,"v":0.0159},{"t":21.75,"v":0.0149},{"t":22.25,"v":0.0163},{"t":22.75,"v":0.0146},{"t":23.25,"v":0.014},{"t":23.75,"v":0.0159},{"t":24.25,"v":0.0142},{"t":24.75,"v":0.0124},{"t":25.25,"v":0.0142},{"t":25.75,"v":0.0127},{"t":26.25,"v":0.0146},{"t":26.75,"v":0.0116},{"t":27.25,"v":0.0122},{"t":27.75,"v":0.0125},{"t":28.25,"v":0.0101},{"t":28.75,"v":0.0123},{"t":29.25,"v":0.011},{"t":29.75,"v":0.0112},{"t":30.25,"v":0.01},{"t":30.75,"v":0.0117},{"t":31.25,"v":0.00909},{"t":31.75,"v":0.0102},{"t":32.25,"v":0.0106},{"t":32.75,"v":0.00905},{"t":33.25,"v":0.0113},{"t":33.75,"v":0.00901},{"t":34.25,"v":0.0082},{"t":34.75,"v":0.00921},{"t":35.25,"v":0.0087},{"t":35.75,"v":0.00715},{"t":36.25,"v":0.00924},{"t":36.75,"v":0.00781},{"t":37.25,"v":0.00846},{"t":37.75,"v":0.00702},{"t":38.25,"v":0.00775},{"t":38.75,"v":0.00825},{"t":39.25,"v":0.00678},{"t":39.75,"v":0.00749},{"t":40.25,"v":0.00623},{"t":40.75,"v":0.00822},{"t":41.25,"v":0.00672},{"t":41.75,"v":0.00631},{"t":42.25,"v":0.00705},{"t":42.75,"v":0.00626},{"t":43.25,"v":0.00604},{"t":43.75,"v":0.00722},{"t":44.25,"v":0.00625},{"t":44.75,"v":0.00523},{"t":45.25,"v":0.00648},{"t":45.75,"v":0.00561},{"t":46.25,"v":0.00694},{"t":46.75,"v":0.00505},{"t":47.25,"v":0.00551},{"t":47.75,"v":0.0058},{"t":48.25,"v":0.00438},{"t":48.75,"v":0.00587},{"t":49.25,"v":0.00508},{"t":49.75,"v":0.00529},{"t":50.25,"v":0.00459},{"t":50.75,"v":0.00581},{"t":51.25,"v":0.0041},{"t":51.75,"v":0.0049},{"t":52.25,"v":0.00517},{"t":52.75,"v":0.00428},{"t":53.25,"v":0.00568},{"t":53.75,"v":0.00434},{"t":54.25,"v":0.00389},{"t":54.75,"v":0.00456},{"t":55.25,"v":0.00428},{"t":55.75,"v":0.00338},{"t":56.25,"v":0.0047},{"t":56.75,"v":0.00385},{"t":57.25,"v":0.00444},{"t":57.75,"v":0.00327},{"t":58.25,"v":0.00397},{"t":58.75,"v":0.00451},{"t":59.25,"v":0.00327},{"t":59.75,"v":0.00397}],
"ins":[{"c":0.25,"tau":20.9},{"c":0.5,"tau":18.9},{"c":1.0,"tau":17.5},{"c":2.0,"tau":16.8},{"c":4.0,"tau":14.6}],
"cur":[{"c":0.25,"tau":20.9},{"c":0.3,"tau":20.45},{"c":0.35,"tau":20.05},{"c":0.4,"tau":19.7},{"c":0.45,"tau":19.4},{"c":0.5,"tau":19.13},{"c":0.55,"tau":18.9},{"c":0.6,"tau":18.7},{"c":0.7,"tau":18.38},{"c":0.8,"tau":18.12},{"c":0.9,"tau":17.92},{"c":1.0,"tau":17.76},{"c":1.2,"tau":17.52},{"c":1.5,"tau":17.26},{"c":2.0,"tau":16.83},{"c":3.0,"tau":15.72},{"c":4.0,"tau":14.6}]
},
"resolve":{"scale":{"x":"independent","y":"independent"},"axis":{"x":"independent","y":"independent"}},
"layer":[
{"layer":[
{"data":{"name":"a"},
"encoding":{
"x":{"field":"t","type":"quantitative","title":"Tempo de vida (ns)","scale":{"domain":[5,115.33],"nice":false,"zero":false},
"axis":{"values":[10,20,30,40,50,60,70,80,90,100,110],"labelExpr":"datum.value % 20 == 0 ? datum.label : ''","format":"d","tickSize":{"condition":{"test":"datum.value % 20 == 0","value":12},"value":-6},"tickWidth":1.5,"domainWidth":2,"labelFontSize":27,"labelPadding":8,"titleFontSize":34,"titlePadding":19}},
"y":{"field":"v","type":"quantitative","title":"Intensidade Normalizada (unid. arb)","scale":{"type":"log","domain":[0.0001,1.123],"nice":false},
"axis":{"values":[0.0001,0.0002,0.0003,0.0004,0.0005,0.0006,0.0007,0.0008,0.0009,0.001,0.002,0.003,0.004,0.005,0.006,0.007,0.008,0.009,0.01,0.02,0.03,0.04,0.05,0.06,0.07,0.08,0.09,0.1,0.2,0.3,0.4,0.5,0.6,0.7,0.8,0.9,1],
"labelExpr":"datum.value > 0.99 ? '1' : abs(datum.value - 0.1) < 1e-6 ? '0.1' : abs(datum.value - 0.01) < 1e-7 ? '0.01' : abs(datum.value - 0.001) < 1e-8 ? '0.001' : abs(datum.value - 0.0001) < 1e-9 ? '1E-4' : ''",
"tickSize":{"condition":{"test":"abs(log(datum.value)/LN10 - round(log(datum.value)/LN10)) < 0.001","value":11},"value":6},"tickWidth":1.5,"domainWidth":2,"labelFontSize":25,"labelPadding":13,"titleFontSize":35,"titlePadding":30,"titleY":284}}},
"layer":[
{"mark":{"type":"circle","size":95,"opacity":1},"encoding":{"color":{"datum":"0,025Ce","type":"nominal","scale":{"domain":["0,025Ce","0,5Ce","1,0Ce","2,0Ce","4,0Ce"],"range":["#000000","#ff0000","#0000ff","#ff1a8c","#008000"]},
"legend":{"orient":"none","legendX":57,"legendY":404,"title":null,"labelFont":"Liberation Sans","labelFontSize":33,"labelColor":"#000","symbolType":"circle","symbolSize":70,"symbolStrokeWidth":0,"rowPadding":8,"labelOffset":29,"padding":0}}}},
{"mark":{"type":"circle","size":95,"opacity":1,"fill":{"gradient":"radial","x1":0.38,"y1":0.3,"r1":0,"x2":0.5,"y2":0.5,"r2":0.5,"stops":[{"offset":0,"color":"rgba(255,255,255,0.95)"},{"offset":0.25,"color":"rgba(255,255,255,0.35)"},{"offset":0.45,"color":"rgba(255,255,255,0)"},{"offset":0.75,"color":"rgba(0,0,0,0)"},{"offset":1,"color":"rgba(0,0,0,0.4)"}]}}}
]},
{"data":{"name":"b"},
"encoding":{"x":{"field":"t","type":"quantitative","title":"Tempo de vida (ns)","scale":{"domain":[5,115.33],"nice":false,"zero":false}},"y":{"field":"v","type":"quantitative","title":"Intensidade Normalizada (unid. arb)","scale":{"type":"log","domain":[0.0001,1.123],"nice":false}}},
"layer":[
{"mark":{"type":"circle","size":95,"opacity":1},"encoding":{"color":{"datum":"0,5Ce","type":"nominal"}}},
{"mark":{"type":"circle","size":95,"opacity":1,"fill":{"gradient":"radial","x1":0.38,"y1":0.3,"r1":0,"x2":0.5,"y2":0.5,"r2":0.5,"stops":[{"offset":0,"color":"rgba(255,255,255,0.95)"},{"offset":0.25,"color":"rgba(255,255,255,0.35)"},{"offset":0.45,"color":"rgba(255,255,255,0)"},{"offset":0.75,"color":"rgba(0,0,0,0)"},{"offset":1,"color":"rgba(0,0,0,0.4)"}]}}}
]},
{"data":{"name":"c"},
"encoding":{"x":{"field":"t","type":"quantitative","title":"Tempo de vida (ns)","scale":{"domain":[5,115.33],"nice":false,"zero":false}},"y":{"field":"v","type":"quantitative","title":"Intensidade Normalizada (unid. arb)","scale":{"type":"log","domain":[0.0001,1.123],"nice":false}}},
"layer":[
{"mark":{"type":"circle","size":95,"opacity":1},"encoding":{"color":{"datum":"1,0Ce","type":"nominal"}}},
{"mark":{"type":"circle","size":95,"opacity":1,"fill":{"gradient":"radial","x1":0.38,"y1":0.3,"r1":0,"x2":0.5,"y2":0.5,"r2":0.5,"stops":[{"offset":0,"color":"rgba(255,255,255,0.95)"},{"offset":0.25,"color":"rgba(255,255,255,0.35)"},{"offset":0.45,"color":"rgba(255,255,255,0)"},{"offset":0.75,"color":"rgba(0,0,0,0)"},{"offset":1,"color":"rgba(0,0,0,0.4)"}]}}}
]},
{"data":{"name":"d"},
"encoding":{"x":{"field":"t","type":"quantitative","title":"Tempo de vida (ns)","scale":{"domain":[5,115.33],"nice":false,"zero":false}},"y":{"field":"v","type":"quantitative","title":"Intensidade Normalizada (unid. arb)","scale":{"type":"log","domain":[0.0001,1.123],"nice":false}}},
"layer":[
{"mark":{"type":"circle","size":95,"opacity":1},"encoding":{"color":{"datum":"2,0Ce","type":"nominal"}}},
{"mark":{"type":"circle","size":95,"opacity":1,"fill":{"gradient":"radial","x1":0.38,"y1":0.3,"r1":0,"x2":0.5,"y2":0.5,"r2":0.5,"stops":[{"offset":0,"color":"rgba(255,255,255,0.95)"},{"offset":0.25,"color":"rgba(255,255,255,0.35)"},{"offset":0.45,"color":"rgba(255,255,255,0)"},{"offset":0.75,"color":"rgba(0,0,0,0)"},{"offset":1,"color":"rgba(0,0,0,0.4)"}]}}}
]},
{"data":{"name":"e"},
"encoding":{"x":{"field":"t","type":"quantitative","title":"Tempo de vida (ns)","scale":{"domain":[5,115.33],"nice":false,"zero":false}},"y":{"field":"v","type":"quantitative","title":"Intensidade Normalizada (unid. arb)","scale":{"type":"log","domain":[0.0001,1.123],"nice":false}}},
"layer":[
{"mark":{"type":"circle","size":95,"opacity":1},"encoding":{"color":{"datum":"4,0Ce","type":"nominal"}}},
{"mark":{"type":"circle","size":95,"opacity":1,"fill":{"gradient":"radial","x1":0.38,"y1":0.3,"r1":0,"x2":0.5,"y2":0.5,"r2":0.5,"stops":[{"offset":0,"color":"rgba(255,255,255,0.95)"},{"offset":0.25,"color":"rgba(255,255,255,0.35)"},{"offset":0.45,"color":"rgba(255,255,255,0)"},{"offset":0.75,"color":"rgba(0,0,0,0)"},{"offset":1,"color":"rgba(0,0,0,0.4)"}]}}}
]},
{"data":{"values":[{}]},"mark":{"type":"rule","color":"#222","strokeWidth":2},
"encoding":{"y":{"datum":1.123,"type":"quantitative","title":"Intensidade Normalizada (unid. arb)","scale":{"type":"log","domain":[0.0001,1.123],"nice":false}}}}
]},
{"layer":[
{"data":{"values":[{}]},"mark":{"type":"rect","filled":false,"color":"#000","strokeWidth":1.2},
"encoding":{
"x":{"datum":0,"type":"quantitative","title":"Concentração Cério (% mol)","scale":{"domain":[0,4.5],"range":[411.3,791.7],"nice":false,"zero":false},
"axis":{"orient":"bottom","offset":-320.7,"values":[0,0.25,0.5,0.75,1,1.25,1.5,1.75,2,2.25,2.5,2.75,3,3.25,3.5,3.75,4,4.25,4.5],"labelExpr":"(datum.value*2) % 1 == 0 ? replace(format(datum.value, '.1f'), '.', ',') : ''","labelOffset":{"condition":{"test":"datum.value == 4.5","value":-4},"value":0},"tickSize":{"condition":{"test":"(datum.value*2) % 1 == 0","value":4},"value":2.5},"tickWidth":1,"domainWidth":1.2,"labelFontSize":13.5,"labelPadding":3,"titleFontSize":15.5,"titlePadding":7}},
"x2":{"datum":4.5},
"y":{"datum":14,"type":"quantitative","title":"Tempo de vida (ns)","scale":{"domain":[14,22],"range":[323.3,12.3],"nice":false,"zero":false},
"axis":{"orient":"left","offset":-411.3,"values":[14,14.5,15,15.5,16,16.5,17,17.5,18,18.5,19,19.5,20,20.5,21,21.5,22],"labelExpr":"datum.value % 1 == 0 ? format(datum.value, 'd') : ''","tickSize":{"condition":{"test":"datum.value % 1 == 0","value":4},"value":2.5},"tickWidth":1,"domainWidth":1.2,"labelFontSize":13.5,"labelPadding":3,"titleFontSize":15.5,"titlePadding":7}},
"y2":{"datum":22}}},
{"data":{"name":"cur"},"mark":{"type":"line","color":"#000","strokeWidth":1,"interpolate":"monotone"},
"encoding":{"x":{"field":"c","type":"quantitative","title":"Concentração Cério (% mol)","scale":{"domain":[0,4.5],"range":[411.3,791.7],"nice":false,"zero":false}},"y":{"field":"tau","type":"quantitative","title":"Tempo de vida (ns)","scale":{"domain":[14,22],"range":[323.3,12.3],"nice":false,"zero":false}}}},
{"data":{"name":"ins"},
"encoding":{"x":{"field":"c","type":"quantitative","title":"Concentração Cério (% mol)","scale":{"domain":[0,4.5],"range":[411.3,791.7],"nice":false,"zero":false}},"y":{"field":"tau","type":"quantitative","title":"Tempo de vida (ns)","scale":{"domain":[14,22],"range":[323.3,12.3],"nice":false,"zero":false}}},
"layer":[
{"mark":{"type":"circle","size":55,"opacity":1,"color":"#000"}},
{"mark":{"type":"circle","size":55,"opacity":1,"fill":{"gradient":"radial","x1":0.38,"y1":0.3,"r1":0,"x2":0.5,"y2":0.5,"r2":0.5,"stops":[{"offset":0,"color":"rgba(255,255,255,0.95)"},{"offset":0.25,"color":"rgba(255,255,255,0.35)"},{"offset":0.45,"color":"rgba(255,255,255,0)"},{"offset":1,"color":"rgba(0,0,0,0)"}]}}}
]}
]}
]
}
